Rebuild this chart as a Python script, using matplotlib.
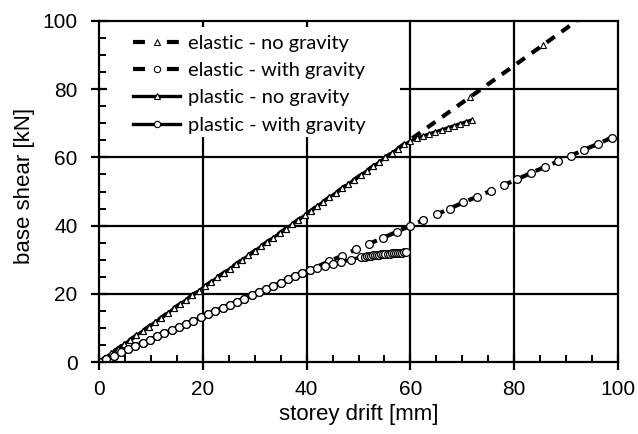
import matplotlib
matplotlib.use("Agg")
import matplotlib.pyplot as plt
from matplotlib.lines import Line2D
from matplotlib.patches import Rectangle
from matplotlib.ticker import MultipleLocator

plt.rcParams["lines.scale_dashes"] = False

# --- data -----------------------------------------------------------------
# common linear branch (no gravity), shared by elastic and plastic runs
drift_ng_lin = [0, 1.2, 2.4, 3.6, 4.8, 6.0, 7.2, 8.4, 9.6, 10.8, 12.0, 13.2,
                14.4, 15.6, 16.8, 18.0, 19.2, 20.4, 21.6, 22.8, 24.0, 25.2,
                26.4, 27.6, 28.8, 30.0, 31.2, 32.4, 33.6, 34.8, 36.0, 37.2,
                38.4, 39.6, 40.8, 42.0, 43.2, 44.4, 45.6, 46.8, 48.0, 49.2,
                50.4, 51.6, 52.8, 54.0, 55.2, 56.4, 57.6]
shear_ng_lin = [0, 1.3, 2.6, 3.9, 5.2, 6.5, 7.8, 9.1, 10.4, 11.7, 13.0, 14.3,
                15.7, 17.0, 18.3, 19.6, 20.9, 22.2, 23.5, 24.8, 26.1, 27.4,
                28.7, 30.0, 31.3, 32.6, 33.9, 35.2, 36.5, 37.8, 39.1, 40.4,
                41.7, 43.0, 44.3, 45.7, 47.0, 48.3, 49.6, 50.9, 52.2, 53.5,
                54.8, 56.1, 57.4, 58.7, 60.0, 61.3, 62.6]

drift_el_ng_tail = [71.4, 85.5, 99.6]
shear_el_ng_tail = [77.6, 92.9, 108.3]

drift_pl_ng_tail = [58.8, 60.0, 61.2, 62.4, 63.6, 64.8, 66.0, 67.2, 68.4,
                    69.6, 70.8, 71.8]
shear_pl_ng_tail = [63.8, 64.8, 65.6, 66.3, 66.9, 67.5, 68.1, 68.7, 69.3,
                    69.9, 70.5, 71.0]

# common linear branch (with gravity)
drift_g_lin = [0, 1.4, 2.8, 4.2, 5.6, 7.0, 8.4, 9.8, 11.2, 12.6, 14.0, 15.4,
               16.8, 18.2, 19.6, 21.0, 22.4, 23.8, 25.2, 26.6, 28.0, 29.4,
               30.8, 32.2, 33.6, 35.0, 36.4, 37.8, 39.2, 40.6]
shear_g_lin = [0, 0.9, 1.9, 2.8, 3.7, 4.7, 5.6, 6.5, 7.5, 8.4, 9.3, 10.3,
               11.2, 12.1, 13.1, 14.0, 14.9, 15.9, 16.8, 17.7, 18.6, 19.6,
               20.5, 21.4, 22.4, 23.3, 24.2, 25.2, 26.1, 27.0]

drift_el_g_tail = [44.3, 46.9, 49.5, 52.1, 54.7, 57.4, 59.9, 62.5, 65.1, 67.6,
                   70.2, 72.9, 75.5, 78.0, 80.6, 83.2, 85.9, 88.5, 90.9, 93.4,
                   96.2, 98.8]
shear_el_g_tail = [29.5, 31.2, 33.0, 34.7, 36.4, 38.2, 39.9, 41.6, 43.3, 45.0,
                   46.8, 48.5, 50.2, 51.9, 53.6, 55.4, 57.2, 58.9, 60.5, 62.2,
                   64.0, 65.8]

drift_pl_g_tail = [42.0, 43.5, 45.0, 46.7, 48.5, 50.4, 51.2, 51.6, 52.0, 52.4,
                   52.8, 53.2, 53.6, 54.0, 54.4, 54.8, 55.2, 55.6, 56.0, 56.4,
                   56.8, 57.2, 57.6, 58.0, 58.4, 58.8, 59.2]
shear_pl_g_tail = [27.6, 28.1, 28.7, 29.3, 30.0, 30.7, 30.9, 31.0, 31.1, 31.2,
                   31.3, 31.4, 31.5, 31.5, 31.6, 31.7, 31.7, 31.8, 31.8, 31.9,
                   31.9, 32.0, 32.0, 32.1, 32.1, 32.2, 32.2]

labels = ["elastic - no gravity", "elastic - with gravity",
          "plastic - no gravity", "plastic - with gravity"]
x_ticks = [0, 20, 40, 60, 80, 100]
y_ticks = [0, 20, 40, 60, 80, 100]

# --- figure ---------------------------------------------------------------
fig = plt.figure(figsize=(6.38, 4.34), dpi=100)
ax = fig.add_axes([99 / 638, 1 - 362 / 434, 519 / 638, 341 / 434])
ax.set_xlim(0, 100)
ax.set_ylim(0, 100)

# grid lines
for v in x_ticks[1:-1]:
    ax.axvline(v, color="black", lw=1.6, zorder=1)
for v in y_ticks[1:-1]:
    ax.axhline(v, color="black", lw=1.6, zorder=1)

# white legend area hiding the grid
ax.add_patch(Rectangle((0.004, 0.66), 0.576, 0.322, transform=ax.transAxes,
                       facecolor="white", edgecolor="none", zorder=1.2))

dash = (7.2, 6.0)
tri = dict(marker="^", markersize=4.8, markerfacecolor="white",
           markeredgecolor="black", markeredgewidth=0.8)
circ = dict(marker="o", markersize=5.6, markerfacecolor="white",
            markeredgecolor="black", markeredgewidth=0.9)

ax.plot(drift_ng_lin + drift_el_ng_tail, shear_ng_lin + shear_el_ng_tail,
        color="black", lw=3.0, linestyle=(0, dash), zorder=2, **tri)
ax.plot(drift_g_lin + drift_el_g_tail, shear_g_lin + shear_el_g_tail,
        color="black", lw=3.0, linestyle=(0, dash), zorder=2, **circ)
ax.plot(drift_ng_lin + drift_pl_ng_tail, shear_ng_lin + shear_pl_ng_tail,
        color="black", lw=2.2, zorder=3, **tri)
ax.plot(drift_g_lin + drift_pl_g_tail, shear_g_lin + shear_pl_g_tail,
        color="black", lw=2.6, zorder=3, **circ)

# ticks and spines
ax.xaxis.set_major_locator(MultipleLocator(20))
ax.yaxis.set_major_locator(MultipleLocator(20))
ax.xaxis.set_minor_locator(MultipleLocator(5))
ax.yaxis.set_minor_locator(MultipleLocator(5))
ax.tick_params(which="major", direction="inout", length=11, width=1.6,
               labelsize=15)
ax.tick_params(axis="x", which="major", pad=7.5)
ax.tick_params(axis="y", which="major", pad=10)
ax.tick_params(which="minor", direction="in", length=5, width=1.4)
for s in ax.spines.values():
    s.set_linewidth(1.6)
    s.set_zorder(4)
for lab in ax.get_xticklabels() + ax.get_yticklabels():
    lab.set_fontfamily("Liberation Sans")

ax.set_xlabel("storey drift [mm]", fontsize=16, family="Liberation Sans",
              labelpad=3.5)
ax.set_ylabel("base shear [kN]", fontsize=16, family="Liberation Sans")
ax.yaxis.set_label_coords(-0.123, 0.517)

# legend
leg_dash = (0, (8.6, 15.8))
mk_small = dict(markerfacecolor="white", markeredgecolor="black",
                markeredgewidth=0.8)
handles = [
    Line2D([], [], color="black", lw=3.0, linestyle=leg_dash,
           marker="^", markersize=4.0, **mk_small),
    Line2D([], [], color="black", lw=3.0, linestyle=leg_dash,
           marker="o", markersize=4.5, **mk_small),
    Line2D([], [], color="black", lw=2.4, marker="^", markersize=4.0,
           **mk_small),
    Line2D([], [], color="black", lw=2.4, marker="o", markersize=4.5,
           **mk_small),
]
leg_fs = 14.4
hl_px = 47
gap_px = 8
fs_px = leg_fs * 100 / 72
leg = ax.legend(handles, labels, loc="upper left",
                bbox_to_anchor=(133 / 638, 1 - 34.5 / 434),
                bbox_transform=fig.transFigure, frameon=False,
                prop={"family": "Lato", "size": leg_fs}, numpoints=1,
                handlelength=hl_px / fs_px, handletextpad=gap_px / fs_px,
                labelspacing=0.52, borderpad=0.0, borderaxespad=0.0)
leg.set_zorder(5)

fig.savefig("out.png", dpi=100)
